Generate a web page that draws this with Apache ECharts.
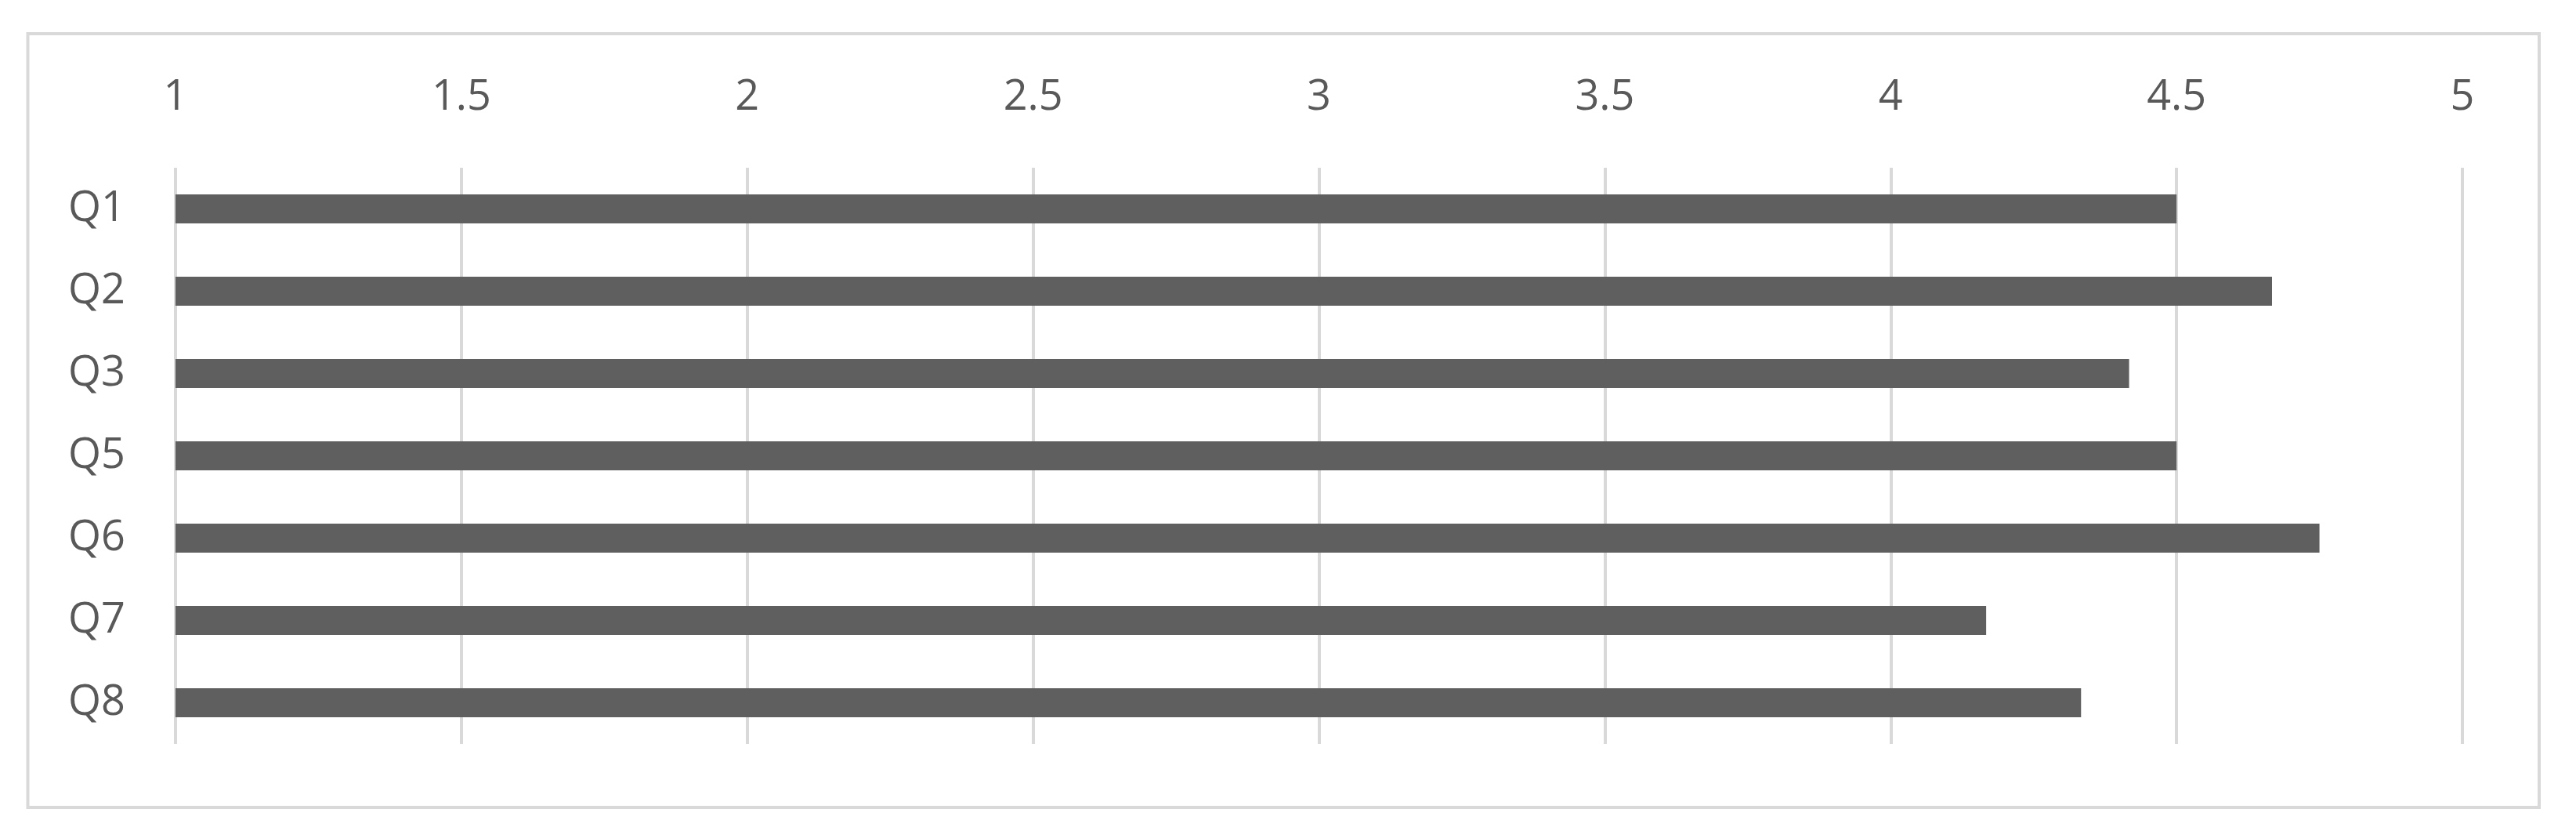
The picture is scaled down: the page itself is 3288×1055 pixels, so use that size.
<!DOCTYPE html>
<html>
<head>
<meta charset="utf-8">
<script src="https://cdn.jsdelivr.net/npm/echarts@6/dist/echarts.min.js"></script>
<style>
  html, body { margin: 0; padding: 0; background: #ffffff; }
  #chart { width: 3288px; height: 1055px; }
</style>
</head>
<body>
<div id="chart"></div>
<script>
const categories = ['Q1', 'Q2', 'Q3', 'Q5', 'Q6', 'Q7', 'Q8'];
const values = [4.5, 4.667, 4.417, 4.5, 4.75, 4.167, 4.333];
const tickValues = [1, 1.5, 2, 2.5, 3, 3.5, 4, 4.5, 5];

const textColor = '#595959';
const gridColor = '#d9d9d9';
const fontFamily = '"Open Sans", "Noto Sans", sans-serif';

const chart = echarts.init(document.getElementById('chart'), null, { renderer: 'canvas' });
chart.setOption({
  backgroundColor: '#ffffff',
  animation: false,
  graphic: [{
    type: 'rect',
    shape: { x: 35.5, y: 43, width: 3205.5, height: 987 },
    style: { fill: 'none', stroke: gridColor, lineWidth: 4 },
    silent: true
  }],
  grid: { left: 224, right: 3288 - 3143, top: 214, bottom: 1055 - 949, containLabel: false },
  xAxis: {
    type: 'value',
    position: 'top',
    min: tickValues[0],
    max: tickValues[tickValues.length - 1],
    interval: tickValues[1] - tickValues[0],
    axisLine: { show: false },
    axisTick: { show: false },
    axisLabel: { color: textColor, fontSize: 54, fontFamily: fontFamily, margin: 62 },
    splitLine: { show: true, lineStyle: { color: gridColor, width: 4 } }
  },
  yAxis: {
    type: 'category',
    data: categories,
    inverse: true,
    axisLine: { show: false },
    axisTick: { show: false },
    axisLabel: { color: textColor, fontSize: 54, fontFamily: fontFamily, margin: 64 },
    splitLine: { show: false }
  },
  series: [{
    type: 'bar',
    data: values,
    barWidth: 37,
    itemStyle: { color: '#5f5f5f' },
    clip: true
  }]
});
</script>
</body>
</html>
